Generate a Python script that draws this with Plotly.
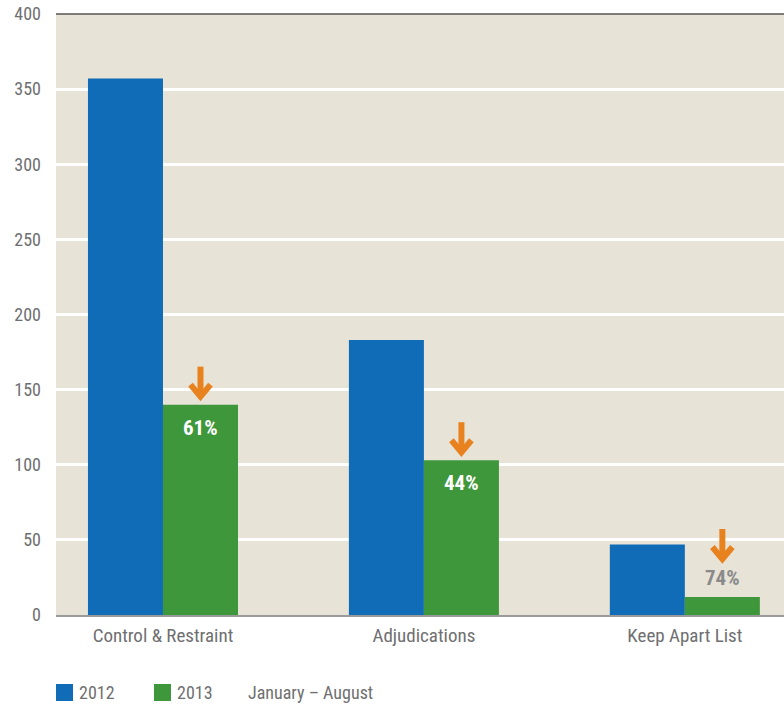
import plotly.graph_objects as go

categories = ["Control & Restraint", "Adjudications", "Keep Apart List"]
values_2012 = [357, 183, 47]
values_2013 = [140, 103, 12]
series_names = ["2012", "2013"]
drop_labels = ["61%", "44%", "74%"]
label_inside = [True, True, False]
y_ticks = [0, 50, 100, 150, 200, 250, 300, 350, 400]
period_note = "January \u2013 August"

FONT = "Liberation Sans Narrow, Roboto Condensed, Arial Narrow, sans-serif"
GREY = "#6f6f71"
BLUE = "#106cb6"
GREEN = "#3f973b"
ORANGE = "#e8821e"
colors = [BLUE, GREEN]

W, H = 784, 706
ML, MR, MT, MB = 56, 0, 14, 91
PW, PH = W - ML - MR, H - MT - MB
X_RANGE = [-0.41, 2.38]
Y_RANGE = [0, 400]
ux = PW / (X_RANGE[1] - X_RANGE[0])   # px per x unit
uy = PH / (Y_RANGE[1] - Y_RANGE[0])   # px per y unit

x_idx = list(range(len(categories)))

fig = go.Figure()
for name, vals, c in zip(series_names, [values_2012, values_2013], colors):
    fig.add_trace(go.Bar(x=x_idx, y=vals, name=name, showlegend=False,
                         marker=dict(color=c, line=dict(width=0))))

group_w = 0.575
off = group_w / 4
annos = []
ax_pts, ay_pts = [], []
for i, (v, lab, inside) in enumerate(zip(values_2013, drop_labels, label_inside)):
    xc = i + off
    if inside:
        annos.append(dict(x=xc, y=v, yshift=-23, text=f"<b>{lab}</b>", showarrow=False,
                          font=dict(family=FONT, size=21, color="white")))
        tip_px = 8
    else:
        annos.append(dict(x=xc, y=v, yshift=19, text=f"<b>{lab}</b>", showarrow=False,
                          font=dict(family=FONT, size=21, color="#8a8a8a")))
        tip_px = 38
    tip = v + tip_px / uy
    top = tip + 30 / uy
    wing_y = tip + 12 / uy
    wing_dx = 10 / ux
    ax_pts += [xc, xc, None, xc - wing_dx, xc, xc + wing_dx, None]
    ay_pts += [top, tip, None, wing_y, tip, wing_y, None]

fig.add_trace(go.Scatter(x=ax_pts, y=ay_pts, mode="lines", showlegend=False, hoverinfo="skip",
                         line=dict(color=ORANGE, width=6)))

def px_x(px):
    return (px - ML) / PW

def px_y(py):
    return (H - MB - py) / PH

shapes = [dict(type="line", xref="paper", yref="paper", x0=0, x1=1, y0=1, y1=1,
               line=dict(color="#555555", width=1.5))]
legend_sq_x = [56, 154]
for name, c, sx in zip(series_names, colors, legend_sq_x):
    shapes.append(dict(type="rect", xref="paper", yref="paper",
                       x0=px_x(sx), x1=px_x(sx + 17), y0=px_y(701), y1=px_y(684),
                       fillcolor=c, line=dict(width=0)))
    annos.append(dict(xref="paper", yref="paper", x=px_x(sx + 21), y=px_y(693),
                      xanchor="left", yanchor="middle", text=name, showarrow=False,
                      font=dict(family=FONT, size=18, color=GREY)))
annos.append(dict(xref="paper", yref="paper", x=px_x(246), y=px_y(693),
                  xanchor="left", yanchor="middle", text=period_note, showarrow=False,
                  font=dict(family=FONT, size=18, color=GREY)))

fig.update_layout(
    width=W, height=H,
    margin=dict(l=ML, r=MR, t=MT, b=MB),
    paper_bgcolor="white", plot_bgcolor="#e7e3d7",
    barmode="group", bargap=1 - group_w, bargroupgap=0,
    font=dict(family=FONT, size=18, color=GREY),
    showlegend=False,
    annotations=annos,
    shapes=shapes,
    xaxis=dict(tickmode="array", tickvals=x_idx, ticktext=categories, range=X_RANGE,
               showline=True, linecolor="#9a9a9a", linewidth=2, ticks="", showgrid=False,
               tickfont=dict(size=19, color=GREY), ticklabelstandoff=2),
    yaxis=dict(range=Y_RANGE, tickvals=y_ticks, showgrid=True, gridcolor="white", gridwidth=2.5,
               zeroline=False, ticks="", tickfont=dict(size=18, color=GREY), ticklabelstandoff=14),
)

fig.write_html("out.html")
